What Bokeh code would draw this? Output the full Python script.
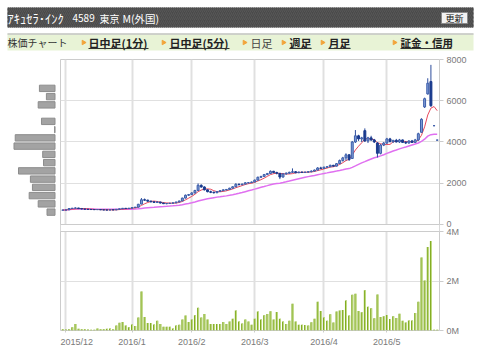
import math
import pandas as pd
from bokeh.plotting import figure
from bokeh.layouts import column, row
from bokeh.models import ColumnDataSource, FixedTicker, Range1d, Span, BoxAnnotation
from bokeh.core.properties import value
from bokeh.embed import file_html
from bokeh.resources import INLINE

# ---------------- data ----------------
dates = (
    ["2015-11-30"]
    + ["2015-12-%02d" % d for d in [1, 2, 3, 4, 7, 8, 9, 10, 11, 14, 15, 16, 17, 18, 21, 22, 24, 25, 28, 29, 30]]
    + ["2016-01-%02d" % d for d in [4, 5, 6, 7, 8, 12, 13, 14, 15, 18, 19, 20, 21, 22, 25, 26, 27, 28, 29]]
    + ["2016-02-%02d" % d for d in [1, 2, 3, 4, 5, 8, 9, 10, 12, 15, 16, 17, 18, 19, 22, 23, 24, 25, 26, 29]]
    + ["2016-03-%02d" % d for d in [1, 2, 3, 4, 7, 8, 9, 10, 11, 14, 15, 16, 17, 18, 22, 23, 24, 25, 28, 29, 30, 31]]
    + ["2016-04-%02d" % d for d in [1, 4, 5, 6, 7, 8, 11, 12, 13, 14, 15, 18, 19, 20, 21, 22, 25, 26, 27, 28]]
    + ["2016-05-%02d" % d for d in [2, 6, 9, 10, 11, 12, 13, 16, 17, 18, 19, 20, 23, 24, 25, 26, 27]]
)

open_ = [695, 700, 710, 775, 790, 800, 770, 750, 740, 730, 725, 720, 725, 710, 705, 700, 715, 705, 735, 760,
         785, 775, 790, 820, 840, 990, 1200, 1180, 1130, 1100, 1070, 1090, 1040, 1010, 1020, 1030, 1050, 1090, 1140, 1280,
         1420, 1450, 1530, 1650, 1900, 1820, 1680, 1590, 1560, 1540, 1600, 1640, 1680, 1700, 1760, 1830, 1950, 1930, 1960, 2020,
         2030, 2060, 2150, 2290, 2330, 2420, 2470, 2580, 2520, 2480, 2300, 2450, 2490, 2530, 2560, 2510, 2540, 2520, 2540, 2560,
         2590, 2640, 2740, 2720, 2780, 2800, 2870, 2830, 2950, 3100, 3230, 3380, 3200, 4000, 4300, 4150, 4550, 4050, 4200, 4100,
         3950, 3450, 3850, 3950, 4150, 4020, 4080, 4000, 4100, 3980, 3950, 4050, 3980, 4100, 4470, 5700, 6330, 6930, 4790, 4090]
high = [710, 715, 790, 800, 830, 805, 775, 760, 745, 740, 730, 735, 730, 720, 715, 720, 720, 740, 770, 800,
        800, 800, 830, 850, 1000, 1280, 1260, 1200, 1160, 1120, 1140, 1100, 1060, 1040, 1050, 1060, 1100, 1150, 1300, 1450,
        1480, 1560, 1680, 1990, 1950, 1850, 1700, 1640, 1600, 1620, 1660, 1700, 1720, 1780, 1850, 2000, 1990, 1980, 2050, 2060,
        2080, 2180, 2320, 2360, 2450, 2500, 2620, 2600, 2560, 2500, 2480, 2520, 2560, 2720, 2590, 2560, 2570, 2560, 2580, 2620,
        2660, 2780, 2800, 2800, 2830, 2900, 2890, 2980, 3150, 3280, 3450, 3400, 4050, 4580, 4350, 4250, 4660, 4250, 4300, 4150,
        4000, 3900, 4000, 4200, 4200, 4100, 4150, 4150, 4120, 4050, 4080, 4100, 4150, 4450, 5150, 6150, 7090, 7740, 4810, 4110]
low = [690, 695, 705, 760, 770, 760, 740, 730, 720, 715, 710, 710, 705, 700, 695, 695, 700, 700, 730, 750,
       765, 770, 780, 800, 830, 980, 1150, 1100, 1070, 1050, 1040, 1020, 990, 980, 1000, 1010, 1040, 1080, 1130, 1260,
       1380, 1430, 1500, 1640, 1780, 1650, 1560, 1520, 1500, 1520, 1580, 1620, 1650, 1690, 1740, 1820, 1900, 1910, 1950, 1990,
       2010, 2050, 2140, 2250, 2310, 2390, 2450, 2480, 2430, 2200, 2280, 2420, 2460, 2500, 2480, 2490, 2500, 2500, 2510, 2530,
       2570, 2620, 2680, 2700, 2740, 2780, 2800, 2820, 2930, 3050, 3100, 3080, 3180, 3950, 4050, 4000, 4000, 3950, 4050, 3950,
       3250, 3400, 3800, 3900, 3980, 3950, 3980, 3950, 3950, 3900, 3920, 3950, 3950, 4050, 4450, 5650, 6300, 5700, 4770, 4070]
close = [700, 705, 775, 790, 800, 770, 750, 740, 730, 725, 720, 725, 710, 705, 700, 715, 705, 735, 760, 785,
         775, 790, 820, 840, 980, 1200, 1180, 1130, 1100, 1070, 1090, 1040, 1010, 1020, 1030, 1050, 1090, 1140, 1280, 1420,
         1450, 1530, 1650, 1900, 1820, 1680, 1590, 1560, 1540, 1600, 1640, 1680, 1700, 1760, 1830, 1950, 1930, 1960, 2020, 2030,
         2060, 2150, 2290, 2330, 2420, 2470, 2580, 2520, 2480, 2300, 2450, 2490, 2530, 2560, 2510, 2540, 2520, 2540, 2560, 2590,
         2640, 2740, 2720, 2780, 2800, 2870, 2830, 2950, 3100, 3230, 3380, 3150, 4000, 4300, 4150, 4200, 4050, 4200, 4100, 4000,
         3450, 3850, 3950, 4150, 4020, 4080, 4000, 4100, 3980, 3950, 4050, 3980, 4100, 4400, 5100, 6100, 6850, 5760, 4790, 4090]
volume = [50000, 40000, 50000, 130000, 260000, 70000, 50000, 50000, 40000, 30000, 30000, 80000, 50000, 50000, 70000,
          80000, 50000, 200000, 310000, 340000, 200000, 130000, 240000, 180000, 530000, 1580000, 550000, 300000, 300000, 240000,
          390000, 260000, 150000, 150000, 150000, 80000, 200000, 230000, 440000, 610000, 340000, 440000, 620000, 920000, 530000,
          670000, 440000, 260000, 260000, 260000, 260000, 340000, 260000, 360000, 470000, 810000, 360000, 280000, 440000, 360000,
          230000, 470000, 770000, 440000, 620000, 670000, 780000, 440000, 750000, 470000, 360000, 260000, 390000, 1080000, 360000,
          230000, 230000, 220000, 200000, 330000, 470000, 1160000, 790000, 530000, 390000, 660000, 320000, 770000, 810000, 830000,
          1210000, 610000, 1440000, 1480000, 790000, 740000, 1630000, 960000, 900000, 500000, 1450000, 550000, 580000, 630000, 460000,
          580000, 510000, 680000, 390000, 320000, 400000, 400000, 710000, 1160000, 2950000, 2020000, 3370000, 3620000, 30000, 30000]

# price-band volume profile (relative units at left)
price_bins = [600, 1000, 1400, 1800, 2200, 2600, 3000, 3400, 3800, 4200, 4600, 5000, 5800, 6200, 6600]
profile_vol = [19.5, 41, 63, 55, 60, 89, 28, 30, 100, 97, 1, 33, 41, 21, 38]

price_ticks = [0, 2000, 4000, 6000, 8000]
vol_ticks = [0, 2000000, 4000000]
vol_tick_labels = ["0M", "2M", "4M"]

# ---------------- derived ----------------
df = pd.DataFrame({"date": pd.to_datetime(dates), "open": open_, "high": high,
                   "low": low, "close": close, "volume": volume})
df["idx"] = range(len(df))
df["ma5"] = df["close"].rolling(5, min_periods=1).mean()
df["ma25"] = df["close"].rolling(25, min_periods=1).mean()
df["top"] = df[["open", "close"]].max(axis=1)
df["bottom"] = df[["open", "close"]].min(axis=1)
df["vx"] = df["idx"] + 0.17
up = df["close"] >= df["open"]
df["fill"] = ["#7f9dd6" if u else "#1b3b8e" for u in up]
df["edge"] = ["#3d5eaa" if u else "#1b3b8e" for u in up]
src = ColumnDataSource(df)

ym = df["date"].dt.year * 100 + df["date"].dt.month
month_idx = [int(i) for i in df.index[ym != ym.shift(1)] if i > 0]
month_lab = {i: "%d/%d" % (df["date"][i].year, df["date"][i].month) for i in month_idx}

N = len(df)
x_rng = Range1d(-0.73, N - 1 + 0.73)

# one frame holds both panes: price pane on top, volume pane below (own range)
P_MIN = -5140          # bottom of the volume pane, in price units
VOL_TOP_POS = -340     # where 4M sits, in price units (a small gap under 0)
y_rng = Range1d(P_MIN, 8000)
vol_end = vol_ticks[-1] * (8000 - P_MIN) / (VOL_TOP_POS - P_MIN)
vol_rng = Range1d(0, vol_end)
vol_pos = [int(round(P_MIN + v * (8000 - P_MIN) / vol_end)) for v in vol_ticks]

AX_FONT = "Liberation Sans"
GRID = "#e0e0e0"
EDGE = "#cccccc"
JP = value("Noto Sans CJK JP")

# ---------------- header ----------------
hdr = figure(width=480, height=55, x_range=Range1d(0, 480), y_range=Range1d(55, 0),
             output_backend="svg", toolbar_location=None, x_axis_location=None, y_axis_location=None,
             min_border=0, outline_line_color=None)
hdr.grid.visible = False
hdr.quad(left=7, right=473, top=7, bottom=27, fill_color="#4a4a4a", line_color=None,
         hatch_pattern="right_diagonal_line", hatch_color="#575757", hatch_scale=4, hatch_weight=1)
hdr.text(x=[7], y=[17.5], text=["ｱｷｭｾﾗ･ｲﾝｸ"], text_font=JP,
         text_font_size="12.5px", text_color="white", text_baseline="middle")
hdr.text(x=[72], y=[17.5], text=["4589"], text_font=JP,
         text_font_size="10px", text_color="white", text_baseline="middle")
hdr.text(x=[99], y=[17.5], text=["東京"], text_font=JP,
         text_font_size="10px", text_color="white", text_baseline="middle")
hdr.text(x=[122], y=[17.5], text=["M(外国)"], text_font=JP,
         text_font_size="10.5px", text_color="white", text_baseline="middle")
hdr.quad(left=441, right=467, top=12, bottom=23, fill_color="#f2f2f2", line_color="#8a8a8a")
hdr.text(x=[454], y=[17.8], text=["更新"], text_font=JP, text_font_size="9px",
         text_color="#111111", text_align="center", text_baseline="middle")
hdr.quad(left=7, right=473, top=33, bottom=50, fill_color="#e8f3d6", line_color=None)
hdr.segment(x0=[7], y0=[33.5], x1=[473], y1=[33.5], line_color="#c4c4c4", line_width=1.5)
hdr.text(x=[7], y=[42], text=["株価チャート"], text_font=JP,
         text_font_size="10px", text_color="#333333", text_baseline="middle")
tri_x = [83, 163, 244, 283, 322, 394]
hdr.scatter(x=tri_x, y=[42] * 6, marker="triangle", size=4.5, angle=-math.pi / 2,
            fill_color="#f2a43a", line_color="#f2a43a")
tab_x = [88, 169, 289, 328]
tab_t = ["日中足(1分)", "日中足(5分)", "週足", "月足"]
tab_end = [148, 229, 311, 350]
hdr.text(x=tab_x, y=[42] * 4, text=tab_t, text_font=JP, text_font_size="11px",
         text_font_style="bold", text_color="#222222", text_baseline="middle")
hdr.text(x=[400], y=[42], text=["証金・信用"], text_font=JP, text_font_size="10.5px",
         text_font_style="bold", text_color="#222222", text_baseline="middle")
hdr.segment(x0=tab_x + [400], y0=[48] * 5, x1=tab_end + [451], y1=[48] * 5, line_color="#333333", line_width=1)
hdr.text(x=[250], y=[42], text=["日足"], text_font=JP, text_font_size="11px",
         text_color="#444444", text_baseline="middle")

# ---------------- price-band profile ----------------
prof = figure(width=60, height=297, x_range=Range1d(132.9, -13.4), y_range=y_rng,
              output_backend="svg", toolbar_location=None, x_axis_location=None, y_axis_location=None,
              min_border_left=0, min_border_right=0, min_border_top=4, min_border_bottom=22,
              outline_line_color=None)
prof.grid.visible = False
prof.hbar(y=price_bins, left=0, right=profile_vol, height=310, fill_color="#a3a3a3", line_color="#8c8c8c")

# ---------------- price + volume chart ----------------
main = figure(width=420, height=297, x_range=x_rng, y_range=y_rng, y_axis_location="right",
              output_backend="svg", toolbar_location=None,
              min_border_left=0, min_border_right=41, min_border_top=4, min_border_bottom=22,
              outline_line_color=EDGE)
main.extra_y_ranges = {"vol": vol_rng}
main.xaxis.ticker = FixedTicker(ticks=month_idx)
main.xaxis.major_label_overrides = month_lab
main.xgrid.grid_line_color = GRID
main.xgrid.grid_line_width = 2
main.ygrid.ticker = FixedTicker(ticks=price_ticks[1:-1] + vol_pos[1:2])
main.ygrid.grid_line_color = GRID
main.ygrid.grid_line_width = 1.2
main.yaxis.ticker = FixedTicker(ticks=price_ticks + vol_pos)
main.yaxis.major_label_overrides = dict(zip(vol_pos, vol_tick_labels))

# volume pane
main.vbar(x="idx", width=0.64, top="volume", bottom=0, source=src, y_range_name="vol",
          fill_color="#82ac22", line_color=None)
main.vbar(x="vx", width=0.3, top="volume", bottom=0, source=src, y_range_name="vol",
          fill_color="#c6df8c", line_color=None)

# price pane
main.line("idx", "ma25", source=src, line_color="#e070f0", line_width=1.5)
main.line("idx", "ma5", source=src, line_color="#e8485c", line_width=1)
main.segment(x0="idx", y0="high", x1="idx", y1="low", source=src, line_color="#2c4c9c", line_width=1)
main.vbar(x="idx", width=0.62, top="top", bottom="bottom", source=src, fill_color="fill", line_color="edge")

# white gap between the two panes, with the panes' own borders
main.add_layout(BoxAnnotation(bottom=VOL_TOP_POS, top=0, fill_color="white", fill_alpha=1,
                              line_color=None, level="overlay"))
main.add_layout(Span(location=0, dimension="width", line_color=EDGE, line_width=1, level="overlay"))
main.add_layout(Span(location=VOL_TOP_POS, dimension="width", line_color=EDGE, line_width=1, level="overlay"))

for ax in main.axis:
    ax.axis_line_color = None
    ax.major_tick_line_color = EDGE
    ax.minor_tick_line_color = None
    ax.major_tick_in = 0
    ax.major_tick_out = 4
    ax.major_label_standoff = 3
    ax.major_label_text_font = AX_FONT
    ax.major_label_text_font_size = "9px"
    ax.major_label_text_color = "#7a7a7a"
main.xaxis.major_tick_out = 2
main.xaxis.major_label_standoff = 4

layout = column(hdr, row(prof, main))
open("out.html", "w").write(file_html(layout, INLINE))
